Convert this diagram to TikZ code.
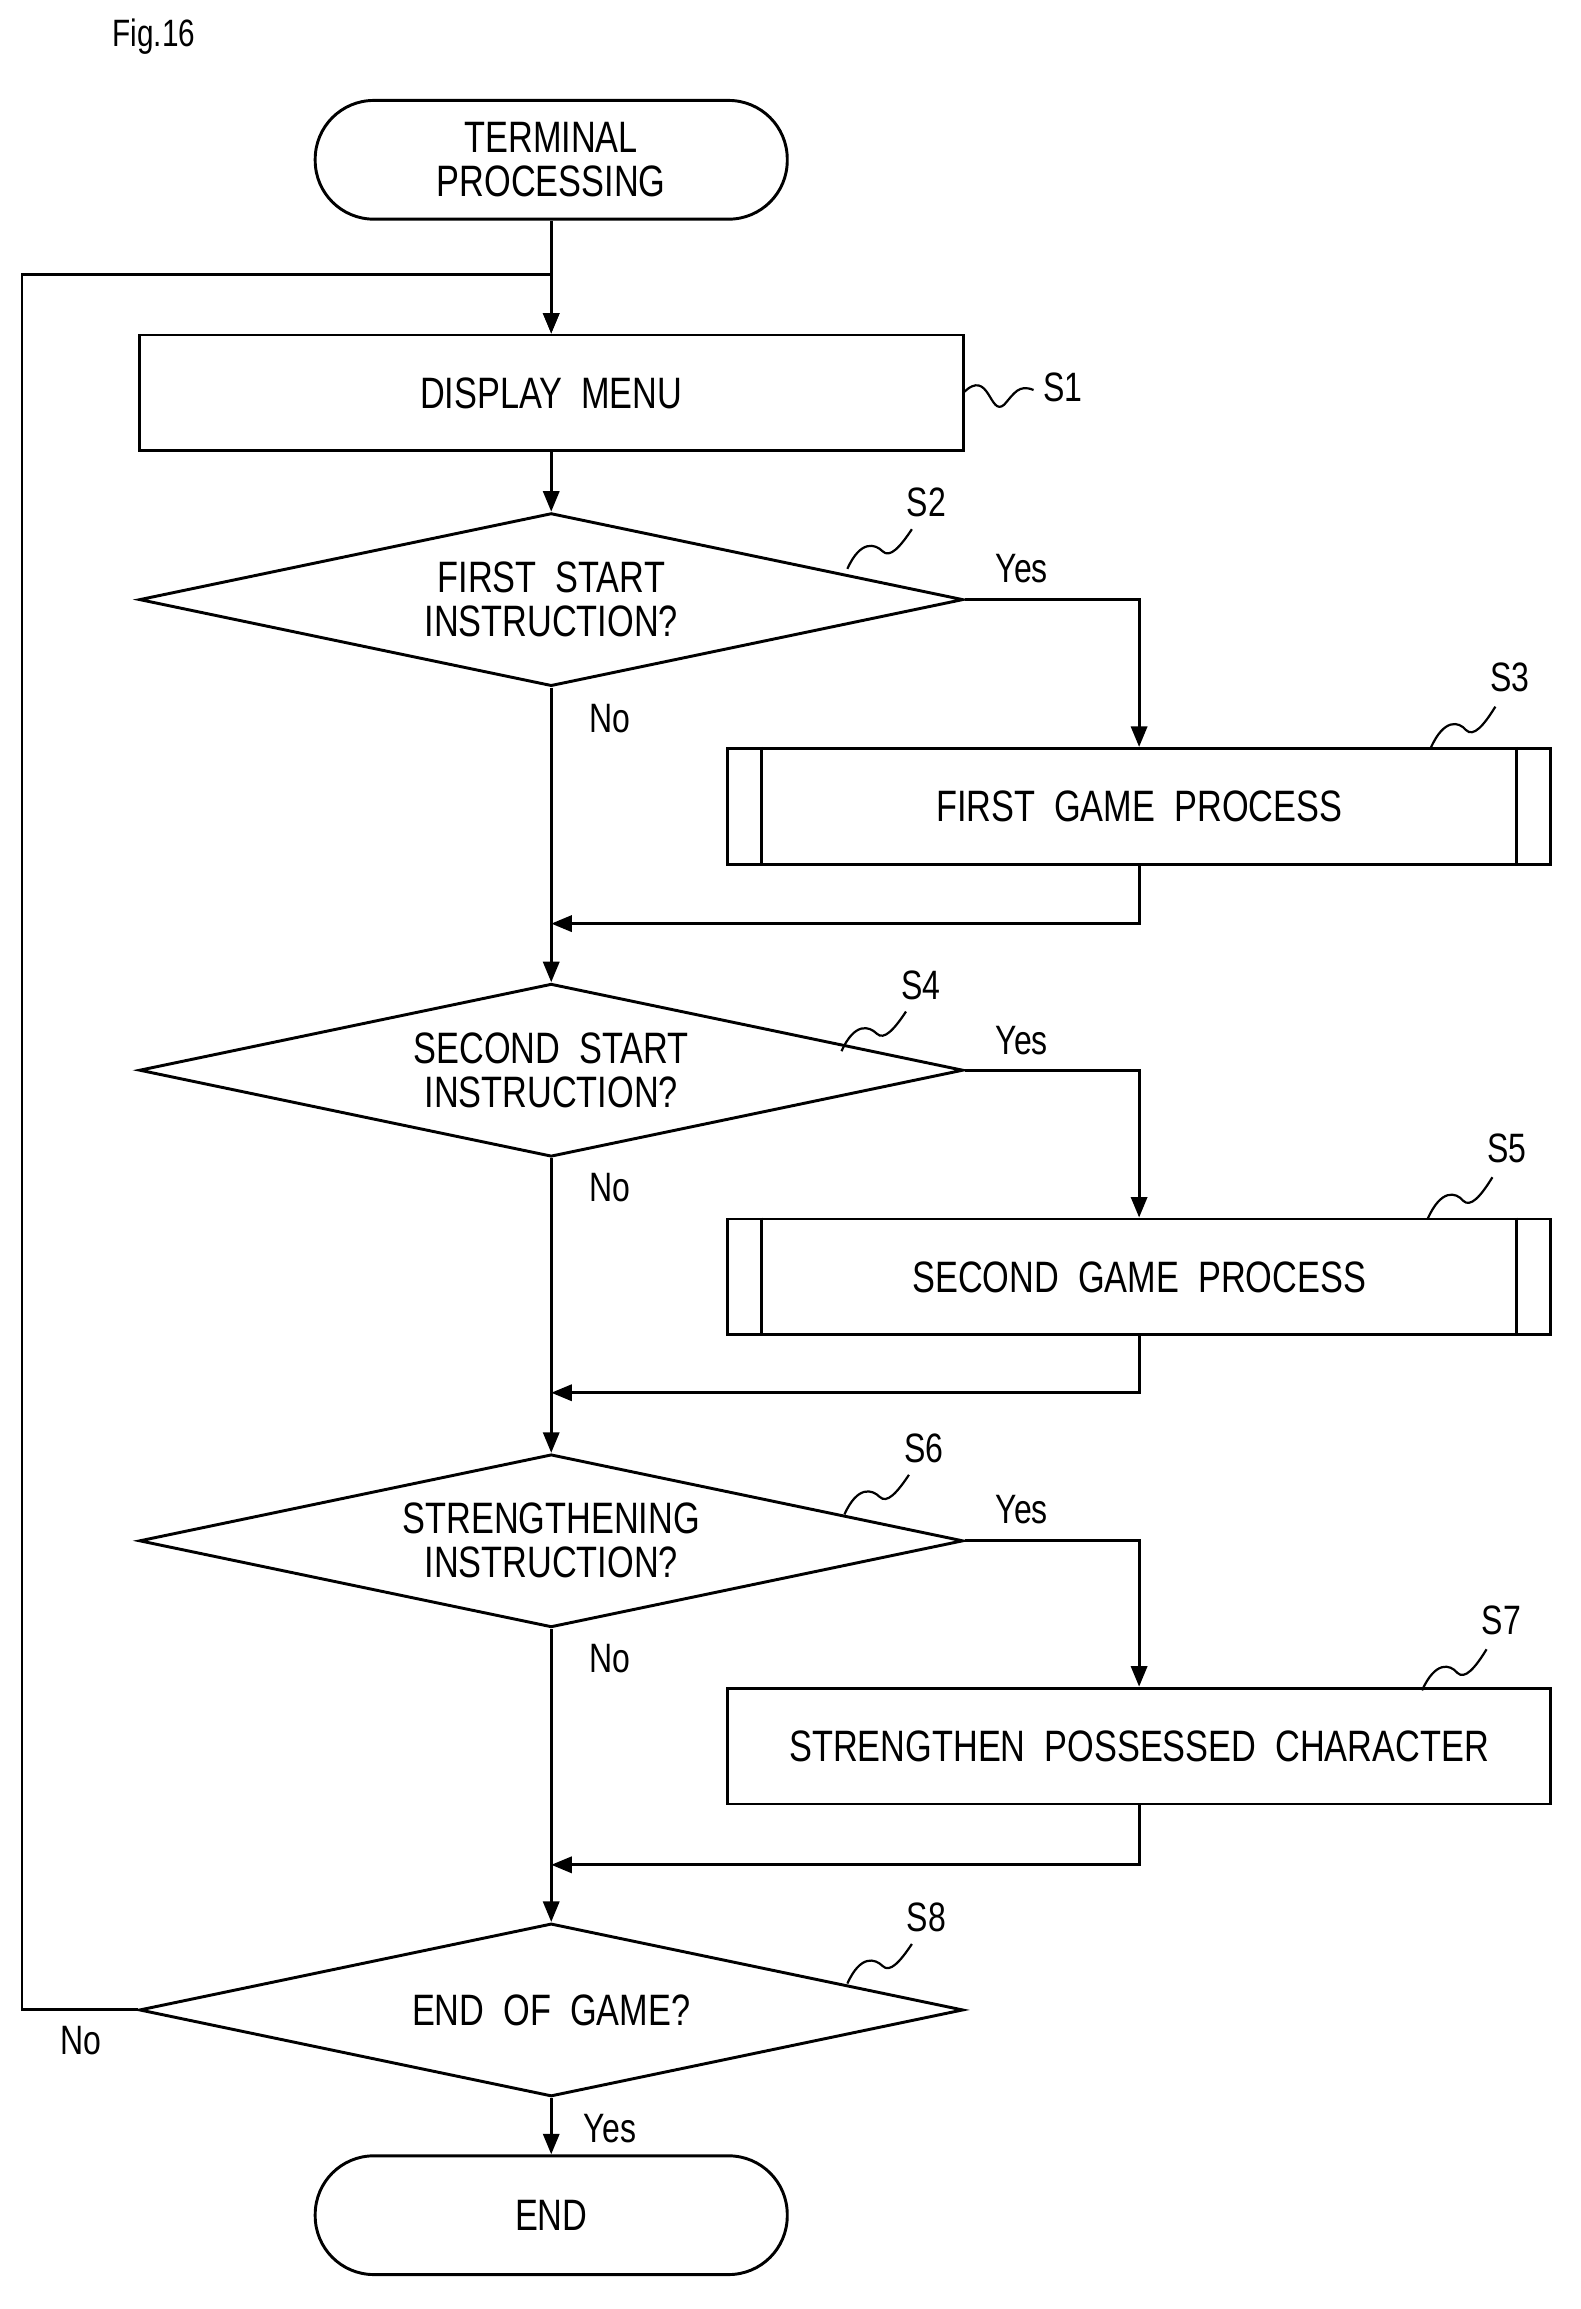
\documentclass[tikz,border=0pt]{standalone}
\usepackage{fontspec}
\setmainfont{Liberation Sans}[FakeStretch=0.78]
\usetikzlibrary{shapes.geometric,arrows.meta}
\begin{document}
\begin{tikzpicture}[x=1pt,y=-1pt,line width=2pt,
 font=\fontsize{30}{34}\selectfont,
 term/.style={draw,rounded corners=40pt,minimum width=322pt,minimum height=81pt,align=center},
 box/.style={draw,minimum width=562pt,minimum height=79pt},
 proc/.style={draw,minimum width=561pt,minimum height=79pt},
 dia/.style={draw,diamond,aspect=4.76,minimum width=562pt,minimum height=118pt,inner sep=0pt,align=center},
 arr/.style={-{Triangle[length=14pt,width=11pt]}},
 lab/.style={font=\fontsize{28}{30}\selectfont},
 sq/.style={line width=1.5pt}]
\useasboundingbox (0,0) rectangle (1078,1575);
\node[font=\fontsize{26}{28}\selectfont] (fig) at (105,25) {Fig.16};
\node[term] (start) at (376,109) {TERMINAL\\[-4pt]PROCESSING};
\node[box] (s1) at (376,268) {DISPLAY\ \ MENU};
\node[dia] (s2) at (376,409) {FIRST\ \ START\\[-4pt]INSTRUCTION?};
\node[proc] (s3) at (777,550) {FIRST\ \ GAME\ \ PROCESS};
\node[dia] (s4) at (376,730) {SECOND\ \ START\\[-4pt]INSTRUCTION?};
\node[proc] (s5) at (777,871) {SECOND\ \ GAME\ \ PROCESS};
\node[dia] (s6) at (376,1051) {STRENGTHENING\\[-4pt]INSTRUCTION?};
\node[box,minimum width=561pt] (s7) at (777,1191) {STRENGTHEN\ \ POSSESSED\ \ CHARACTER};
\node[dia] (s8) at (376,1371) {END\ \ OF\ \ GAME?};
\node[term] (end) at (376,1511) {END};
% predefined process bars
\foreach \n in {s3,s5}{
 \draw ([xshift=24pt]\n.north west) -- ([xshift=24pt]\n.south west);
 \draw ([xshift=-24pt]\n.north east) -- ([xshift=-24pt]\n.south east);}
\coordinate (loop) at (376,187);
\coordinate (j1) at (376,630);
\coordinate (j2) at (376,950);
\coordinate (j3) at (376,1272);
\draw[arr] (start) -- (s1);
\draw (s8.west) -| (15,187) -- (loop);
\draw[arr] (loop) -- (s1);
\draw[arr] (s1) -- (s2);
\draw[arr] (s2.east) -| (s3.north);
\draw[arr] (s2.south) -- (s4.north);
\draw[arr] (s3.south) |- (j1);
\draw[arr] (s4.east) -| (s5.north);
\draw[arr] (s4.south) -- (s6.north);
\draw[arr] (s5.south) |- (j2);
\draw[arr] (s6.east) -| (s7.north);
\draw[arr] (s6.south) -- (s8.north);
\draw[arr] (s7.south) |- (j3);
\draw[arr] (s8.south) -- (end);
% labels
\node[lab] (y2) at (697,388) {Yes};
\node[lab] (n2) at (416,490) {No};
\node[lab] (y4) at (697,710) {Yes};
\node[lab] (n4) at (416,810) {No};
\node[lab] (y6) at (697,1030) {Yes};
\node[lab] (n6) at (416,1131) {No};
\node[lab] (n8) at (55,1392) {No};
\node[lab] (y8) at (416,1452) {Yes};
% step labels + squiggles
\node[lab] (l1) at (725,264) {S1};
\draw[sq] (657,268) .. controls (675,250) and (675,285) .. (685,276) .. controls (692,268) and (695,262) .. (705,266);
\foreach \nm/\x/\y in {S2/632/343,S4/628/672,S6/630/988,S8/632/1308}{
 \node[lab] at (\x,\y) {\nm};
 \draw[sq] (\x-54,\y+45) .. controls (\x-45,\y+25) and (\x-35,\y+28) .. (\x-30,\y+33) .. controls (\x-25,\y+38) and (\x-18,\y+30) .. (\x-10,\y+18);}
\foreach \nm/\x/\y in {S3/1030/462,S5/1028/783,S7/1024/1105}{
 \node[lab] at (\x,\y) {\nm};
 \draw[sq] (\x-54,\y+48) .. controls (\x-45,\y+28) and (\x-35,\y+30) .. (\x-30,\y+36) .. controls (\x-25,\y+41) and (\x-18,\y+33) .. (\x-10,\y+20);}
\end{tikzpicture}
\end{document}
